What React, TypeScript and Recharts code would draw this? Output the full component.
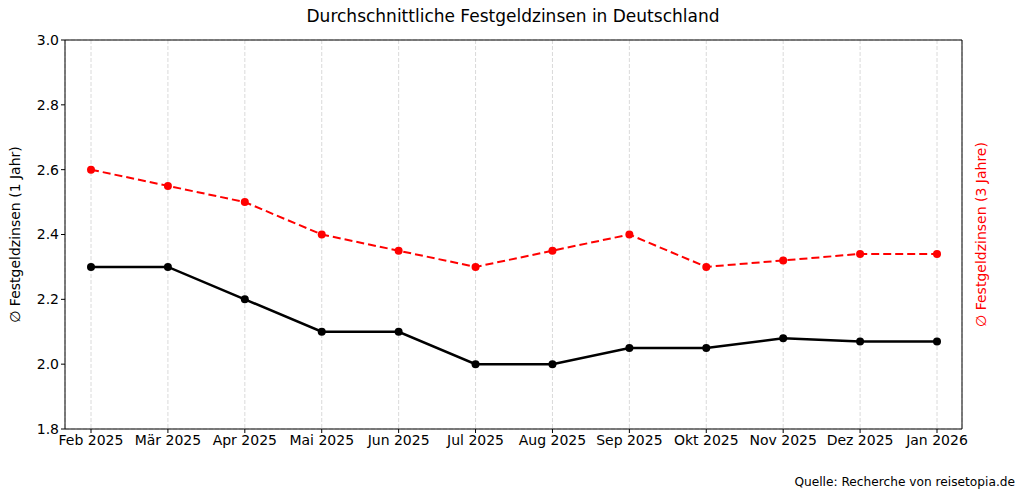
import { LineChart, Line, XAxis, YAxis, CartesianGrid, ReferenceLine } from 'recharts';

const months = ['Feb 2025', 'Mär 2025', 'Apr 2025', 'Mai 2025', 'Jun 2025', 'Jul 2025', 'Aug 2025', 'Sep 2025', 'Okt 2025', 'Nov 2025', 'Dez 2025', 'Jan 2026'];
const zins1Jahr = [2.3, 2.3, 2.2, 2.1, 2.1, 2.0, 2.0, 2.05, 2.05, 2.08, 2.07, 2.07];
const zins3Jahre = [2.6, 2.55, 2.5, 2.4, 2.35, 2.3, 2.35, 2.4, 2.3, 2.32, 2.34, 2.34];
const yTicks = [1.8, 2.0, 2.2, 2.4, 2.6, 2.8, 3.0];

const data = months.map((m, i) => ({ name: m, einJahr: zins1Jahr[i], dreiJahre: zins3Jahre[i] }));

const font = 'DejaVu Sans, sans-serif';

const App = () => {
    return (
        <div style={{ position: 'absolute', left: 0, top: 0, width: 1024, height: 497, background: '#fff', fontFamily: font }}>
            <LineChart width={1024} height={497} data={data} margin={{ top: 40, right: 0, bottom: 38, left: 0 }}>
                <CartesianGrid stroke='#d0d0d0' strokeDasharray='4 2' strokeWidth={0.8} />
                <XAxis
                    dataKey='name'
                    padding={{ left: 26, right: 25 }}
                    height={30}
                    tickSize={4}
                    tickLine={{ stroke: '#000' }}
                    axisLine={{ stroke: '#000' }}
                    tick={{ fill: '#000', fontSize: 14, fontFamily: font }}
                    interval={0}
                />
                <YAxis
                    yAxisId='left'
                    width={65}
                    domain={[1.8, 3.0]}
                    ticks={yTicks}
                    tickFormatter={(v: number) => v.toFixed(1)}
                    tickSize={4}
                    tickLine={{ stroke: '#000' }}
                    axisLine={{ stroke: '#000' }}
                    tick={{ fill: '#000', fontSize: 14, fontFamily: font }}
                    allowDataOverflow
                    label={{ value: '∅ Festgeldzinsen (1 Jahr)', angle: -90, position: 'insideLeft', offset: 15, style: { textAnchor: 'middle', fill: '#000', fontSize: 14, fontFamily: font } }}
                />
                <YAxis
                    yAxisId='right'
                    orientation='right'
                    width={62}
                    domain={[1.8, 3.0]}
                    ticks={yTicks}
                    tick={false}
                    tickLine={false}
                    axisLine={{ stroke: '#000' }}
                    allowDataOverflow
                    label={{ value: '∅ Festgeldzinsen (3 Jahre)', angle: -90, position: 'insideRight', offset: 43, style: { textAnchor: 'middle', fill: '#ff0000', fontSize: 14, fontFamily: font } }}
                />
                <ReferenceLine yAxisId='left' y={3.0} stroke='#000' strokeWidth={1} />
                <Line
                    yAxisId='left'
                    type='linear'
                    dataKey='einJahr'
                    stroke='#000'
                    strokeWidth={2.5}
                    dot={{ r: 4, fill: '#000', stroke: '#000', strokeWidth: 0 }}
                    isAnimationActive={false}
                />
                <Line
                    yAxisId='right'
                    type='linear'
                    dataKey='dreiJahre'
                    stroke='#ff0000'
                    strokeWidth={2}
                    strokeDasharray='8 4'
                    dot={{ r: 4, fill: '#ff0000', stroke: '#ff0000', strokeWidth: 0, strokeDasharray: '' }}
                    isAnimationActive={false}
                />
                <text x={513} y={22} textAnchor='middle' fontSize={17} fontFamily={font} fill='#000'>
                    Durchschnittliche Festgeldzinsen in Deutschland
                </text>
                <text x={1015} y={486} textAnchor='end' fontSize={12.2} fontFamily={font} fill='#000'>
                    Quelle: Recherche von reisetopia.de
                </text>
            </LineChart>
        </div>
    );
};

export default App;
